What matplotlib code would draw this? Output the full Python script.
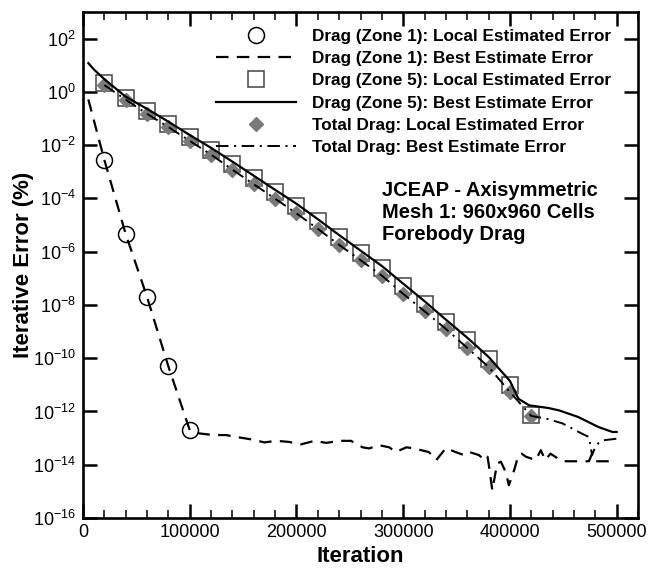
import numpy as np
import matplotlib
matplotlib.use("Agg")
import matplotlib.pyplot as plt
from matplotlib.ticker import FixedLocator, MultipleLocator, LogFormatterSciNotation, NullLocator

plt.rcParams['font.family'] = ['Liberation Sans', 'DejaVu Sans']
plt.rcParams['mathtext.fontset'] = 'custom'
plt.rcParams['mathtext.rm'] = 'Liberation Sans'
plt.rcParams['mathtext.it'] = 'Liberation Sans:italic'
plt.rcParams['mathtext.bf'] = 'Liberation Sans:bold'
plt.rcParams['lines.scale_dashes'] = False

# ---------------- data ----------------
zone1_local_x = [20000, 40000, 60000, 80000, 100000]
zone1_local_y = [2.8e-3, 4.6e-6, 2.0e-8, 4.9e-11, 2.0e-13]

zone1_best_x = [5000, 20000, 40000, 60000, 80000, 100000, 109000, 122000, 134000, 147000,
                158000, 170000, 181000, 193000, 204000, 217000, 228000, 240000, 251000, 262000,
                268000, 277500, 287000, 293000, 303000, 309000, 324000, 331000, 340000, 349000,
                357000, 362000, 371000, 376000, 379000, 380500, 383500, 388000, 391500, 396000,
                399000, 404000, 408000, 411000, 415000, 424000, 429000, 433000, 438000, 449000,
                474000, 477000, 480000, 500000]
zone1_best_y = [0.52, 2.8e-3, 4.6e-6, 2.0e-8, 4.9e-11, 2.0e-13, 1.5e-13, 1.3e-13, 1.3e-13, 1.05e-13,
                8.9e-14, 6.9e-14, 7.9e-14, 7.2e-14, 5.8e-14, 7.9e-14, 6.6e-14, 7.9e-14, 7.9e-14, 4.5e-14,
                4.1e-14, 5.4e-14, 4.5e-14, 3.0e-14, 4.5e-14, 4.2e-14, 3.0e-14, 1.5e-14, 4.2e-14, 3.0e-14,
                2.3e-14, 3.0e-14, 2.3e-14, 1.5e-14, 2.0e-14, 8.3e-15, 1.1e-15, 1.1e-14, 1.3e-14, 5.4e-15,
                1.7e-15, 6.3e-15, 2.3e-14, 2.6e-14, 2.0e-14, 1.5e-14, 3.5e-14, 1.5e-14, 2.6e-14, 1.35e-14,
                1.35e-14, 2.6e-14, 1.35e-14, 1.35e-14]

zone5_local_x = [20000, 40000, 60000, 80000, 100000, 120000, 140000, 160000, 180000, 200000,
                 220000, 240000, 260000, 280000, 300000, 320000, 340000, 360000, 380000, 400000, 420000]
zone5_local_y = [2.1, 0.59, 0.19, 6.3e-2, 2.0e-2, 6.6e-3, 2.0e-3, 5.9e-4, 1.8e-4, 5.2e-5,
                 1.4e-5, 3.5e-6, 9.1e-7, 2.4e-7, 5.0e-8, 1.1e-8, 2.2e-9, 4.7e-10, 9.1e-11, 1.0e-11, 7.2e-13]

zone5_best_x = [5000, 10000, 20000, 40000, 60000, 80000, 100000, 120000, 140000, 160000,
                180000, 200000, 220000, 240000, 260000, 280000, 300000, 320000, 340000, 360000,
                380000, 400000, 408000, 418000, 436000, 446000, 464000, 483000, 496000, 500000]
zone5_best_y = [12.0, 7.1, 3.0, 0.66, 0.23, 7.6e-2, 2.4e-2, 7.9e-3, 2.4e-3, 7.1e-4,
                2.1e-4, 6.3e-5, 1.66e-5, 4.2e-6, 1.1e-6, 2.9e-7, 6.3e-8, 1.38e-8, 2.8e-9, 5.9e-10,
                1.12e-10, 1.4e-11, 3.0e-12, 1.7e-12, 1.35e-12, 1.1e-12, 6.2e-13, 2.6e-13, 1.7e-13, 1.7e-13]

total_local_x = [20000, 40000, 60000, 80000, 100000, 120000, 140000, 160000, 180000, 200000,
                 220000, 240000, 260000, 280000, 300000, 320000, 340000, 360000, 380000, 400000, 420000]
total_local_y = [1.8, 0.51, 0.15, 4.8e-2, 1.45e-2, 4.4e-3, 1.2e-3, 3.4e-4, 9.8e-5, 2.75e-5,
                 7.2e-6, 1.8e-6, 4.8e-7, 1.26e-7, 2.6e-8, 5.8e-9, 1.26e-9, 2.45e-10, 4.7e-11, 5.4e-12, 6.8e-13]

total_best_x = [20000, 40000, 60000, 80000, 100000, 120000, 140000, 160000, 180000, 200000,
                220000, 240000, 260000, 280000, 300000, 320000, 340000, 360000, 380000, 400000,
                420000, 434000, 449000, 467000, 474000, 477000, 480000, 483000, 488000, 500000]
total_best_y = [1.8, 0.51, 0.15, 4.8e-2, 1.45e-2, 4.4e-3, 1.2e-3, 3.4e-4, 9.8e-5, 2.75e-5,
                7.2e-6, 1.8e-6, 4.8e-7, 1.26e-7, 2.6e-8, 5.8e-9, 1.26e-9, 2.45e-10, 4.7e-11, 5.4e-12,
                6.8e-13, 5.4e-13, 3.6e-13, 1.5e-13, 1.1e-13, 2.3e-14, 4.7e-14, 6.5e-14, 8.3e-14, 9.5e-14]

labels = ["Drag (Zone 1): Local Estimated Error",
          "Drag (Zone 1): Best Estimate Error",
          "Drag (Zone 5): Local Estimated Error",
          "Drag (Zone 5): Best Estimate Error",
          "Total Drag: Local Estimated Error",
          "Total Drag: Best Estimate Error"]
annotation = "JCEAP - Axisymmetric\nMesh 1: 960x960 Cells\nForebody Drag"

# ---------------- figure ----------------
W, H = 664, 572
fig = plt.figure(figsize=(W / 100, H / 100), dpi=100)
ax = fig.add_axes([83 / W, 54 / H, 555 / W, 506 / H])

h1, = ax.plot(zone1_local_x, zone1_local_y, linestyle='none', marker='o', markersize=11.5,
              markerfacecolor='none', markeredgecolor='black', markeredgewidth=1.1, zorder=3)
h2, = ax.plot(zone1_best_x, zone1_best_y, color='black', linewidth=1.6,
              dashes=(9, 6), zorder=4)
h3, = ax.plot(zone5_local_x, zone5_local_y, linestyle='none', marker='s', markersize=12,
              markerfacecolor='none', markeredgecolor='#444444', markeredgewidth=1.1, zorder=3)
h4, = ax.plot(zone5_best_x, zone5_best_y, color='black', linewidth=1.6, zorder=4)
h5, = ax.plot(total_local_x, total_local_y, linestyle='none', marker='D', markersize=7,
              markerfacecolor='#7a7a7a', markeredgecolor='#7a7a7a', zorder=3)
h6, = ax.plot(total_best_x, total_best_y, color='black', linewidth=1.4,
              dashes=(9, 4, 1.5, 4), zorder=5)

ax.set_yscale('log')
ax.set_xlim(0, 520000)
ax.set_ylim(1e-16, 1e3)

ax.xaxis.set_major_locator(MultipleLocator(100000))
ax.xaxis.set_minor_locator(MultipleLocator(20000))
ax.xaxis.set_major_formatter(matplotlib.ticker.FuncFormatter(lambda v, p: f"{int(v)}"))
ax.yaxis.set_major_locator(FixedLocator([10.0 ** k for k in range(-16, 3, 2)]))
ax.yaxis.set_minor_locator(NullLocator())
ax.yaxis.set_major_formatter(LogFormatterSciNotation())

ax.tick_params(which='major', direction='in', length=10, width=1.8, top=True, right=True,
               labelsize=13, pad=4)
ax.tick_params(axis='x', which='minor', direction='in', length=5.5, width=1.1, top=True)
ax.tick_params(axis='y', which='major', pad=5)
for s in ax.spines.values():
    s.set_linewidth(1.9)

ax.set_xlabel("Iteration", fontsize=16, fontweight='bold', labelpad=4)
ax.set_ylabel("Iterative Error (%)", fontsize=16, fontweight='bold')
ax.yaxis.set_label_coords(-0.088, 0.5)

leg = fig.legend([h1, h2, h3, h4, h5, h6], labels, loc='upper left',
                 bbox_to_anchor=(216 / W, 1 - 29 / H), bbox_transform=fig.transFigure,
                 frameon=False, borderpad=0, borderaxespad=0, numpoints=1,
                 handlelength=4.7, handletextpad=0.9, labelspacing=0.42,
                 prop={'weight': 'bold', 'size': 12.3})

fig.text(382 / W, 1 - 181 / H, annotation, fontsize=14.5, fontweight='bold',
         va='top', ha='left', linespacing=1.2)

fig.savefig("out.png", dpi=100)
